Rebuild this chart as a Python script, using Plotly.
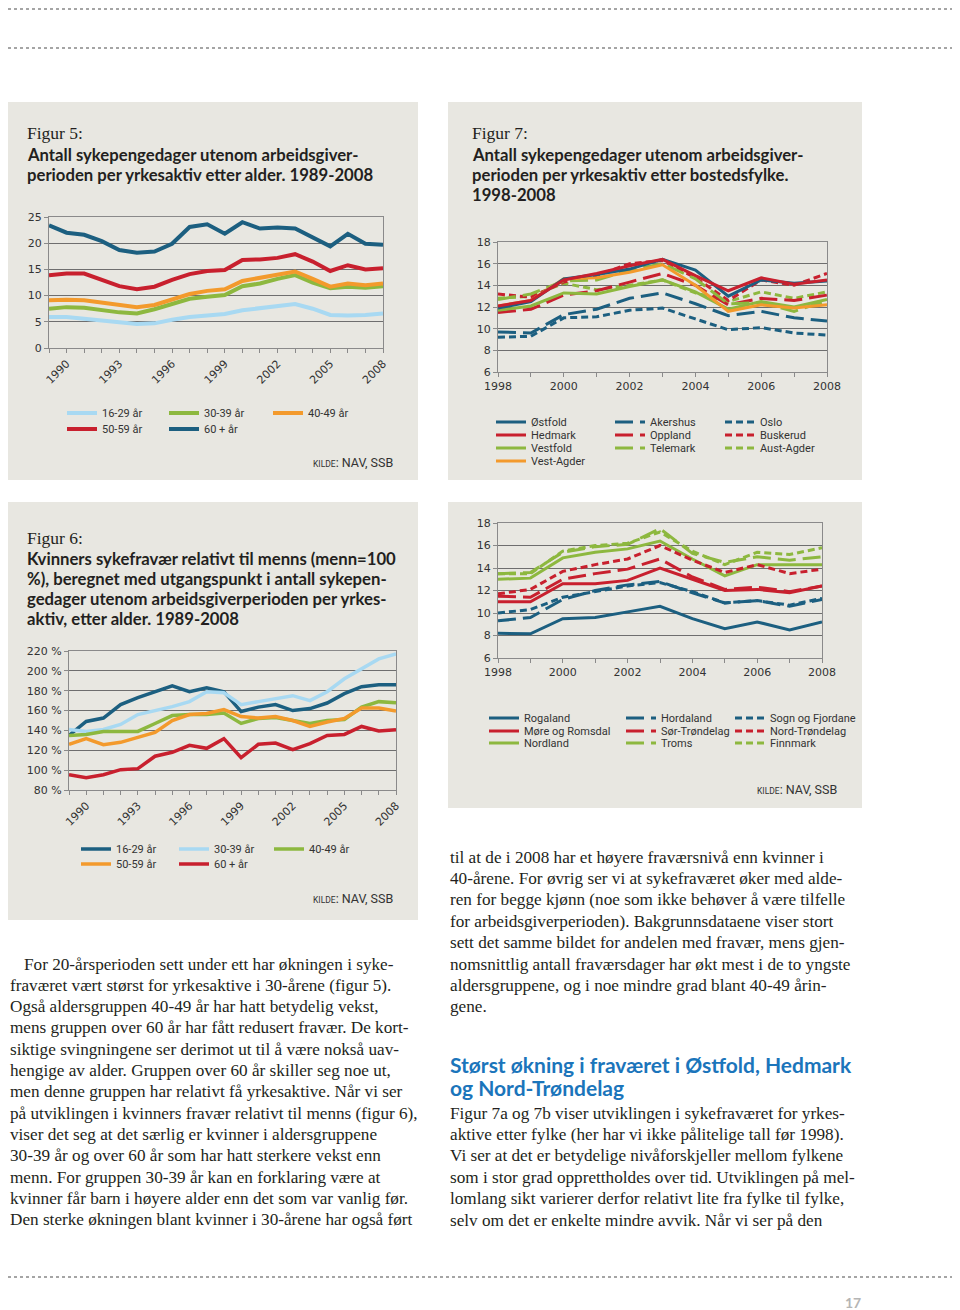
import plotly.graph_objects as go

W, H = 960, 1310
OFF = 8  # the page body adds an 8px margin around the figure

# ---------------- DATA ----------------
# Figur 5: sykepengedager per yrkesaktiv etter alder
years5 = list(range(1989, 2009))
f5_names = ["16-29 år", "30-39 år", "40-49 år", "50-59 år", "60 + år"]
f5_16_29 = [5.9, 5.9, 5.6, 5.2, 4.9, 4.6, 4.7, 5.4, 5.9, 6.2, 6.5, 7.2, 7.6, 7.9, 8.4, 7.5, 6.3, 6.2, 6.3, 6.6]
f5_30_39 = [7.5, 7.8, 7.7, 7.2, 6.8, 6.6, 7.4, 8.4, 9.4, 9.8, 10.1, 11.8, 12.3, 13.2, 13.9, 12.5, 11.4, 11.7, 11.5, 11.8]
f5_40_49 = [9.1, 9.2, 9.1, 8.7, 8.2, 7.8, 8.2, 9.3, 10.3, 10.9, 11.2, 12.8, 13.4, 13.9, 14.6, 13.2, 11.7, 12.3, 12.0, 12.3]
f5_50_59 = [13.9, 14.2, 14.2, 13.0, 11.8, 11.2, 11.7, 13.0, 14.1, 14.7, 14.9, 16.8, 16.9, 17.2, 17.9, 16.5, 14.7, 15.8, 15.0, 15.2]
f5_60 = [23.4, 22.0, 21.6, 20.4, 18.7, 18.2, 18.4, 19.9, 23.1, 23.6, 21.8, 24.0, 22.8, 23.0, 22.8, 21.2, 19.4, 21.8, 19.9, 19.7]
f5_ticklabels = ["1990", "1993", "1996", "1999", "2002", "2005", "2008"]

# Figur 6: kvinners fravær relativt til menns (menn = 100)
f6_names = ["16-29 år", "30-39 år", "40-49 år", "50-59 år", "60 + år"]
f6_16_29 = [135, 149, 152.5, 166, 173, 179, 185, 179, 183, 179, 159, 163.5, 166, 160, 162, 167.6, 177, 184, 186, 186]
f6_30_39 = [141, 139, 141, 146, 156, 160, 164, 169, 179, 178, 166, 169, 172, 175, 170, 179, 192, 202, 212, 217]
f6_40_49 = [135, 136, 139, 139, 139, 147, 155, 156, 156, 157.5, 147, 152, 153, 150, 147, 150, 151, 163.5, 169, 168]
f6_50_59 = [126, 131.7, 125.7, 128, 133, 138, 150, 156, 157, 161, 154, 152.5, 154, 150, 144, 148.5, 152, 162.6, 162.6, 159.6]
f6_60 = [95.4, 92.4, 95.4, 100.5, 101.5, 114, 118, 125, 122, 131.7, 112.6, 126, 127.3, 120.6, 126.7, 135, 136, 144, 139.4, 140.8]

# Figur 7: etter bostedsfylke
years7 = list(range(1998, 2009))
f7_ticklabels = ["1998", "2000", "2002", "2004", "2006", "2008"]
f7a_names = ["Østfold", "Hedmark", "Vestfold", "Vest-Agder",
             "Akershus", "Oppland", "Telemark",
             "Oslo", "Buskerud", "Aust-Agder"]
ostfold = [11.9, 12.5, 14.6, 15.0, 15.5, 16.4, 15.4, 13.0, 14.5, 14.2, 14.4]
hedmark = [12.1, 12.6, 14.5, 15.1, 15.8, 16.4, 14.9, 13.5, 14.7, 14.1, 14.5]
vestfold = [11.7, 12.1, 13.3, 13.2, 13.9, 14.5, 13.4, 11.8, 12.5, 12.0, 12.7]
vest_agder = [12.1, 12.6, 14.6, 14.7, 15.2, 15.9, 14.0, 11.6, 12.2, 11.9, 12.2]
akershus = [9.7, 9.6, 11.3, 11.8, 12.8, 13.3, 12.3, 11.2, 11.6, 11.0, 10.7]
oppland = [11.5, 11.8, 13.1, 13.5, 14.3, 15.1, 14.0, 12.2, 12.8, 12.6, 13.1]
telemark = [12.7, 13.2, 14.4, 14.5, 15.4, 16.0, 14.6, 12.3, 12.4, 11.6, 12.6]
oslo = [9.2, 9.3, 11.0, 11.1, 11.7, 11.9, 10.9, 9.9, 10.1, 9.6, 9.4]
buskerud = [13.2, 12.9, 14.3, 14.9, 16.0, 16.3, 14.7, 12.6, 14.5, 14.0, 15.1]
aust_agder = [12.8, 13.0, 14.2, 13.6, 14.0, 14.5, 13.3, 12.5, 13.4, 12.8, 13.4]

f7b_names = ["Rogaland", "Møre og Romsdal", "Nordland",
             "Hordaland", "Sør-Trøndelag", "Troms",
             "Sogn og Fjordane", "Nord-Trøndelag", "Finnmark"]
rogaland = [8.2, 8.15, 9.5, 9.6, 10.1, 10.6, 9.5, 8.6, 9.2, 8.5, 9.2]
more_romsdal = [11.0, 11.0, 12.6, 12.6, 12.9, 14.0, 13.0, 12.0, 12.1, 11.8, 12.4]
nordland = [13.0, 13.1, 14.9, 15.4, 15.7, 16.4, 14.8, 13.3, 14.3, 14.3, 14.3]
hordaland = [9.3, 9.6, 11.2, 12.0, 12.5, 12.8, 11.8, 10.9, 11.1, 10.6, 11.2]
sor_trondelag = [11.5, 11.4, 13.0, 13.5, 13.9, 14.8, 13.2, 12.1, 12.3, 11.9, 12.4]
troms = [13.5, 13.6, 15.4, 15.9, 16.1, 17.5, 15.3, 14.5, 15.0, 14.7, 15.0]
sogn_fjordane = [10.0, 10.3, 11.4, 11.9, 12.4, 12.7, 11.9, 10.9, 11.1, 10.7, 11.3]
nord_trondelag = [11.7, 12.1, 13.7, 14.3, 14.8, 16.0, 14.7, 13.6, 14.3, 13.5, 13.9]
finnmark = [13.5, 13.5, 15.5, 16.0, 16.2, 17.2, 15.5, 14.3, 15.4, 15.2, 15.8]

# ---------------- STYLE ----------------
NAVY = "#1c5f80"
RED = "#c8202e"
ORANGE = "#f39a2c"
GREEN = "#8db83f"
LBLUE = "#a8d9f2"
PANEL = "#e8e7e1"
TXT = "#231f20"
AXC = "#8a8a8a"
GRID = "#6e6e6e"
TICKFONT = dict(family="DejaVu Sans", size=11, color="#333333")
LEGFONT = dict(family="Roboto", size=11, color="#333333")
SERIF = "Liberation Serif"
SANS = "Lato"
LONG = "18px,7px"
SHORT = "7px,4px"


def px(x):
    return (x - OFF) / W


def py(y):
    return 1 - (y - OFF) / H


fig = go.Figure()
legends = {}


def add_series(x, y, name, color, width, dash, axn, leg_x, leg_y):
    idx = len(legends) + 1
    key = "legend" if idx == 1 else f"legend{idx}"
    fig.add_trace(go.Scatter(
        x=x, y=y, name=name, mode="lines",
        line=dict(color=color, width=width, dash=dash),
        xaxis="x" if axn == 1 else f"x{axn}",
        yaxis="y" if axn == 1 else f"y{axn}",
        legend=key, hoverinfo="skip"))
    legends[key] = dict(x=px(leg_x - 40), y=py(leg_y), xanchor="left", yanchor="middle",
                        bgcolor="rgba(0,0,0,0)", borderwidth=0, font=LEGFONT,
                        itemwidth=30, itemclick=False, itemdoubleclick=False)


# Figur 5
f5_series = [f5_16_29, f5_30_39, f5_40_49, f5_50_59, f5_60]
f5_colors = [LBLUE, GREEN, ORANGE, RED, NAVY]
f5_leg_cols = [102, 204, 308]
f5_leg_rows = [413, 429]
for i, (s, n, c) in enumerate(zip(f5_series, f5_names, f5_colors)):
    add_series(years5, s, n, c, 4, "solid", 1,
               f5_leg_cols[i % 3], f5_leg_rows[i // 3])

# Figur 7a
f7a_series = [ostfold, hedmark, vestfold, vest_agder, akershus, oppland, telemark, oslo, buskerud, aust_agder]
f7a_colors = [NAVY, RED, GREEN, ORANGE, NAVY, RED, GREEN, NAVY, RED, GREEN]
f7a_dash = ["solid"] * 4 + [LONG] * 3 + [SHORT] * 3
f7a_col = [0, 0, 0, 0, 1, 1, 1, 2, 2, 2]
f7a_row = [0, 1, 2, 3, 0, 1, 2, 0, 1, 2]
f7a_leg_cols = [531, 650, 760]
f7a_leg_rows = [422, 435, 448, 461]
order7a = [7, 4, 9, 8, 5, 6, 2, 3, 0, 1]
for i in order7a:
    add_series(years7, f7a_series[i], f7a_names[i], f7a_colors[i], 3, f7a_dash[i], 2,
               f7a_leg_cols[f7a_col[i]], f7a_leg_rows[f7a_row[i]])

# Figur 6
f6_series = [f6_16_29, f6_30_39, f6_40_49, f6_50_59, f6_60]
f6_colors = [NAVY, LBLUE, GREEN, ORANGE, RED]
f6_leg_cols = [116, 214, 309]
f6_leg_rows = [849, 864]
for i, (s, n, c) in enumerate(zip(f6_series, f6_names, f6_colors)):
    add_series(years5, s, n, c, 3.5, "solid", 3,
               f6_leg_cols[i % 3], f6_leg_rows[i // 3])

# Figur 7b
f7b_series = [rogaland, more_romsdal, nordland, hordaland, sor_trondelag, troms,
              sogn_fjordane, nord_trondelag, finnmark]
f7b_colors = [NAVY, RED, GREEN] * 3
f7b_dash = ["solid"] * 3 + [LONG] * 3 + [SHORT] * 3
f7b_leg_cols = [524, 661, 770]
f7b_leg_rows = [718, 731, 743]
for i in range(9):
    add_series(years7, f7b_series[i], f7b_names[i], f7b_colors[i], 3, f7b_dash[i], 4,
               f7b_leg_cols[i // 3], f7b_leg_rows[i % 3])


# ---------------- AXES ----------------
def xaxis(dom, rng, vals, labels, angle, anchor):
    return dict(domain=[px(dom[0]), px(dom[1])], range=rng, anchor=anchor,
                tickvals=vals, ticktext=labels, tickangle=angle,
                ticks="outside", ticklen=4, tickcolor=AXC, tickfont=TICKFONT,
                showline=True, linecolor=AXC, linewidth=1, mirror=True,
                showgrid=False, zeroline=False, fixedrange=True)


def yaxis(dom, rng, dt, anchor, suffix=""):
    return dict(domain=[py(dom[1]), py(dom[0])], range=rng, dtick=dt, anchor=anchor,
                ticks="outside", ticklen=4, tickcolor=AXC, tickfont=TICKFONT,
                ticksuffix=suffix,
                showline=True, linecolor=AXC, linewidth=1, mirror=True,
                showgrid=True, gridcolor=GRID, gridwidth=1, zeroline=False, fixedrange=True)


t5 = [str(y) if str(y) in f5_ticklabels else "" for y in years5]
t7 = [str(y) if str(y) in f7_ticklabels else "" for y in years7]

layout_axes = dict(
    xaxis=xaxis((49, 383), [1989, 2008], years5, t5, -45, "y"),
    yaxis=yaxis((217, 348), [0, 25], 5, "x"),
    xaxis2=xaxis((498, 827), [1998, 2008], years7, t7, 0, "y2"),
    yaxis2=yaxis((242, 372), [6, 18], 2, "x2"),
    xaxis3=xaxis((69, 396), [1989, 2008], years5, t5, -45, "y3"),
    yaxis3=yaxis((651, 790), [80, 220], 20, "x3", " %"),
    xaxis4=xaxis((498, 822), [1998, 2008], years7, t7, 0, "y4"),
    yaxis4=yaxis((523, 658), [6, 18], 2, "x4"),
)

# ---------------- SHAPES ----------------
shapes = []
panels = [(3, 102, 418, 480), (448, 102, 862, 480), (3, 502, 418, 920), (448, 502, 862, 808)]
for (x0, y0, x1, y1) in panels:
    shapes.append(dict(type="rect", xref="paper", yref="paper", x0=px(x0), x1=px(x1),
                       y0=py(y1), y1=py(y0), fillcolor=PANEL, line=dict(width=0), layer="below"))
for yy in [9, 48, 1277]:
    shapes.append(dict(type="line", xref="paper", yref="paper", x0=0, x1=1, y0=py(yy), y1=py(yy),
                       line=dict(color="#888888", width=1.5, dash="dot"), layer="below"))

# ---------------- TEXT ----------------
ann = []


def text(x, y, s, size, family, color=TXT, anchor="left"):
    ann.append(dict(x=px(x), y=py(y), xref="paper", yref="paper", text=s, showarrow=False,
                    xanchor=anchor, yanchor="middle", font=dict(family=family, size=size, color=color)))


# figure titles
text(25, 133, "Figur 5:", 17.5, SERIF)
for i, line in enumerate(["Antall sykepengedager utenom arbeidsgiver-",
                          "perioden per yrkesaktiv etter alder. 1989-2008"]):
    text(25, 155 + 20 * i, "<b>" + line + "</b>", 16.7, SANS)

text(470, 133, "Figur 7:", 17.5, SERIF)
for i, line in enumerate(["Antall sykepengedager utenom arbeidsgiver-",
                          "perioden per yrkesaktiv etter bostedsfylke.",
                          "1998-2008"]):
    text(470, 155 + 20 * i, "<b>" + line + "</b>", 16.7, SANS)

text(25, 538, "Figur 6:", 17.5, SERIF)
for i, line in enumerate(["Kvinners sykefravær relativt til menns (menn=100",
                          "%), beregnet med utgangspunkt i antall sykepen-",
                          "gedager utenom arbeidsgiverperioden per yrkes-",
                          "aktiv, etter alder. 1989-2008"]):
    text(25, 559 + 20 * i, "<b>" + line + "</b>", 16.7, SANS)

kilde = "<span style='font-size:8.5px'>KILDE</span>: NAV, SSB"
text(395, 463, kilde, 12.5, "Roboto", "#333333", "right")
text(395, 898, kilde, 12.5, "Roboto", "#333333", "right")
text(839, 789, kilde, 12.5, "Roboto", "#333333", "right")

left_col = [
    "For 20-årsperioden sett under ett har økningen i syke-",
    "fraværet vært størst for yrkesaktive i 30-årene (figur 5).",
    "Også aldersgruppen 40-49 år har hatt betydelig vekst,",
    "mens gruppen over 60 år har fått redusert fravær. De kort-",
    "siktige svingningene ser derimot ut til å være nokså uav-",
    "hengige av alder. Gruppen over 60 år skiller seg noe ut,",
    "men denne gruppen har relativt få yrkesaktive. Når vi ser",
    "på utviklingen i kvinners fravær relativt til menns (figur 6),",
    "viser det seg at det særlig er kvinner i aldersgruppene",
    "30-39 år og over 60 år som har hatt sterkere vekst enn",
    "menn. For gruppen 30-39 år kan en forklaring være at",
    "kvinner får barn i høyere alder enn det som var vanlig før.",
    "Den sterke økningen blant kvinner i 30-årene har også ført",
]
for i, line in enumerate(left_col):
    text(22 if i == 0 else 8, 964 + 21.33 * i, line, 17.2, SERIF)

right_col = [
    "til at de i 2008 har et høyere fraværsnivå enn kvinner i",
    "40-årene. For øvrig ser vi at sykefraværet øker med alde-",
    "ren for begge kjønn (noe som ikke behøver å være tilfelle",
    "for arbeidsgiverperioden). Bakgrunnsdataene viser stort",
    "sett det samme bildet for andelen med fravær, mens gjen-",
    "nomsnittlig antall fraværsdager har økt mest i de to yngste",
    "aldersgruppene, og i noe mindre grad blant 40-49 årin-",
    "gene.",
]
for i, line in enumerate(right_col):
    text(448, 857 + 21.4 * i, line, 17.2, SERIF)

text(448, 1064, "<b>Størst økning i fraværet i Østfold, Hedmark</b>", 21, SANS, "#1b75bb")
text(448, 1087, "<b>og Nord-Trøndelag</b>", 21, SANS, "#1b75bb")

right_col2 = [
    "Figur 7a og 7b viser utviklingen i sykefraværet for yrkes-",
    "aktive etter fylke (her har vi ikke pålitelige tall før 1998).",
    "Vi ser at det er betydelige nivåforskjeller mellom fylkene",
    "som i stor grad opprettholdes over tid. Utviklingen på mel-",
    "lomlang sikt varierer derfor relativt lite fra fylke til fylke,",
    "selv om det er enkelte mindre avvik. Når vi ser på den",
]
for i, line in enumerate(right_col2):
    text(448, 1113 + 21.4 * i, line, 17.2, SERIF)

text(853, 1302, "<b>17</b>", 14, SANS, "#b5b5b5", "center")

fig.update_layout(
    width=W, height=H, autosize=False,
    margin=dict(l=0, r=0, t=0, b=0, pad=0, autoexpand=False),
    paper_bgcolor="white", plot_bgcolor="rgba(0,0,0,0)",
    showlegend=True,
    shapes=shapes, annotations=ann,
    hovermode=False,
    **layout_axes,
    **legends,
)

fig.write_html("out.html")
